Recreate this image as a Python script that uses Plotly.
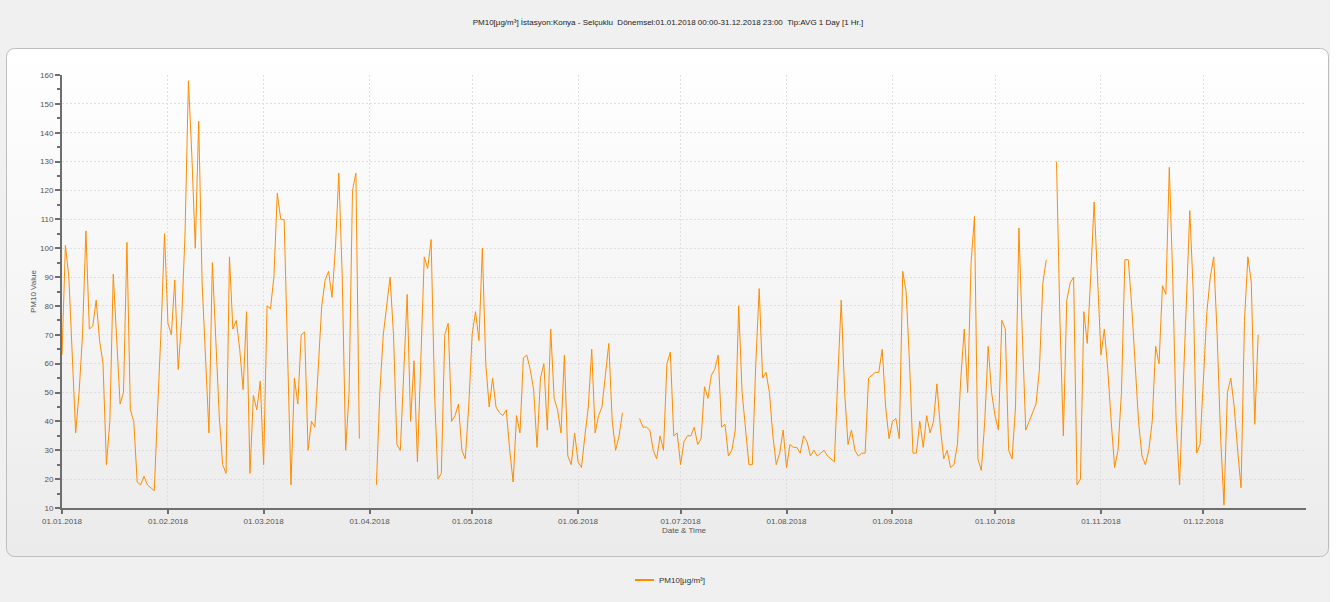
import base64
import pandas as pd
import plotly.graph_objects as go

# Daily PM10 averages (µg/m³), Konya - Selçuklu station, 2018. None = no measurement.
jan = [63, 101, 90, 63, 36, 50, 70, 106, 72, 73, 82, 68, 60, 25, 40, 91, 68, 46, 50, 102,
       44, 40, 19, 18, 21, 18, 17, 16, 45, 72, 105]
feb = [74, 70, 89, 58, 75, 105, 158, 132, 100, 144, 88, 62, 36, 95, 68, 42, 25, 22, 97, 72,
       75, 65, 51, 78, 22, 49, 44, 54]
mar = [25, 80, 79, 90, 119, 110, 110, 60, 18, 55, 46, 70, 71, 30, 40, 38, 60, 80, 89, 92,
       83, 100, 126, 90, 30, 50, 120, 126, 34, None, None]
apr = [None, None, 18, 50, 70, 80, 90, 70, 32, 30, 55, 84, 40, 61, 26, 60, 97, 93, 103, 50,
       20, 22, 70, 74, 40, 42, 46, 30, 27, 45]
may = [70, 78, 68, 100, 60, 45, 55, 45, 43, 42, 44, 30, 19, 42, 36, 62, 63, 58, 51, 31,
       55, 60, 37, 72, 48, 44, 36, 63, 28, 25, 36]
jun = [26, 24, 35, 45, 65, 36, 42, 45, 56, 67, 40, 30, 35, 43, None, None, None, None, 41, 38,
       38, 37, 30, 27, 35, 30, 60, 64, 35, 36]
jul = [25, 33, 35, 35, 38, 32, 34, 52, 48, 56, 58, 63, 38, 39, 28, 30, 37, 80, 50, 37,
       25, 25, 60, 86, 55, 57, 50, 35, 25, 29, 37]
aug = [24, 32, 31, 31, 29, 35, 33, 28, 30, 28, 29, 30, 28, 27, 26, 55, 82, 50, 32, 37,
       30, 28, 29, 29, 55, 56, 57, 57, 65, 45, 34]
sep = [40, 41, 34, 92, 85, 60, 29, 29, 40, 31, 42, 36, 40, 53, 38, 27, 30, 24, 25, 32,
       55, 72, 50, 95, 111, 27, 23, 40, 66, 50]
oct_ = [42, 37, 75, 72, 30, 27, 45, 107, 70, 37, 40, 43, 46, 58, 88, 96, None, None, 130, 75,
        35, 82, 88, 90, 18, 20, 78, 67, 90, 116, 90]
nov = [63, 72, 58, 40, 24, 30, 50, 96, 96, 80, 60, 40, 28, 25, 30, 40, 66, 60, 87, 84,
       128, 90, 40, 18, 50, 80, 113, 85, 29, 32]
dec = [55, 78, 90, 97, 70, 35, 11, 50, 55, 45, 30, 17, 75, 97, 88, 39, 70]

pm10 = jan + feb + mar + apr + may + jun + jul + aug + sep + oct_ + nov + dec
dates = pd.date_range("2018-01-01", periods=len(pm10), freq="D")

title_text = ("PM10[µg/m³] İstasyon:Konya - Selçuklu\u00a0\u00a0Dönemsel:01.01.2018 00:00-31.12.2018 23:00"
              "\u00a0\u00a0Tip:AVG 1 Day [1 Hr.]")
series_name = "PM10[µg/m³]"
line_color = "#ff8c00"

W, H = 1339, 602
ML, MR, MT, MB = 62, 33, 75, 94
PW, PH = W - ML - MR, H - MT - MB


def px_x(x):
    return (x - ML) / PW


def px_y(y):
    return (H - MB - y) / PH


# Rounded panel behind the chart, with a soft vertical gradient
pan_x0, pan_x1, pan_y0, pan_y1 = 6, 1329, 48, 557
pw, ph = pan_x1 - pan_x0, pan_y1 - pan_y0
panel_svg = f'''<svg xmlns="http://www.w3.org/2000/svg" width="{pw}" height="{ph}" viewBox="0 0 {pw} {ph}" preserveAspectRatio="none">
<defs><linearGradient id="g" x1="0" y1="0" x2="0" y2="1">
<stop offset="0" stop-color="#ffffff"/><stop offset="1" stop-color="#ebebeb"/></linearGradient></defs>
<rect x="0.5" y="0.5" width="{pw - 1}" height="{ph - 1}" rx="8" ry="8" fill="url(#g)" stroke="#bdbdbd" stroke-width="1"/>
</svg>'''
panel_src = "data:image/svg+xml;base64," + base64.b64encode(panel_svg.encode()).decode()

fig = go.Figure()
fig.add_trace(go.Scatter(
    x=dates, y=pm10, mode="lines", name=series_name, showlegend=False,
    line=dict(color=line_color, width=1), connectgaps=False,
))

axis_font = dict(family="Liberation Sans, Arial, sans-serif", size=8, color="#555555")
legend_font = dict(family="Liberation Sans, Arial, sans-serif", size=8, color="#333333")
grid_style = dict(showgrid=True, gridcolor="#dedede", gridwidth=1, griddash="2px,2px")

# Compact legend below the panel: short thick key line plus series label
leg_y = px_y(580)
shapes = [
    dict(type="rect", xref="paper", yref="paper",
         x0=px_x(1330), x1=px_x(W + 2), y0=px_y(H + 2), y1=px_y(-2),
         fillcolor="#ffffff", line=dict(width=0), layer="below"),
    dict(type="line", xref="paper", yref="paper",
         x0=px_x(635), x1=px_x(654), y0=leg_y, y1=leg_y,
         line=dict(color=line_color, width=2)),
]
annotations = [
    dict(text=series_name, xref="paper", yref="paper", x=px_x(657), y=leg_y,
         xanchor="left", yanchor="middle", showarrow=False, font=legend_font),
]

fig.update_layout(
    width=W, height=H,
    margin=dict(l=ML, r=MR, t=MT, b=MB, pad=0, autoexpand=False),
    paper_bgcolor="#f0f0f0",
    plot_bgcolor="rgba(0,0,0,0)",
    title=dict(text=title_text, x=668 / W, xanchor="center", y=1 - 22 / H, yanchor="middle",
               font=dict(family="Liberation Sans, Arial, sans-serif", size=8, color="#222222")),
    images=[dict(source=panel_src, xref="paper", yref="paper",
                 x=px_x(pan_x0), y=px_y(pan_y0), sizex=pw / PW, sizey=ph / PH,
                 xanchor="left", yanchor="top", sizing="stretch", layer="below")],
    shapes=shapes,
    annotations=annotations,
    showlegend=False,
    xaxis=dict(
        type="date", range=["2018-01-01", "2018-12-31"], automargin=False,
        tick0="2018-01-01", dtick="M1", tickformat="%d.%m.%Y",
        showline=True, linecolor="#6e6e6e", linewidth=2,
        ticks="outside", ticklen=4, tickwidth=2, tickcolor="#6e6e6e",
        zeroline=False, tickfont=axis_font, **grid_style,
        title=dict(text="Date & Time", font=axis_font, standoff=2),
    ),
    yaxis=dict(
        range=[10, 160], tick0=10, dtick=10, automargin=False,
        showline=True, linecolor="#6e6e6e", linewidth=2,
        ticks="outside", ticklen=5, tickwidth=2, tickcolor="#6e6e6e",
        minor=dict(dtick=5, ticks="outside", ticklen=3, tickwidth=2, tickcolor="#6e6e6e", showgrid=False),
        zeroline=False, tickfont=axis_font, **grid_style,
        title=dict(text="PM10 Value", font=axis_font, standoff=2),
    ),
)

fig.write_html("out.html")
